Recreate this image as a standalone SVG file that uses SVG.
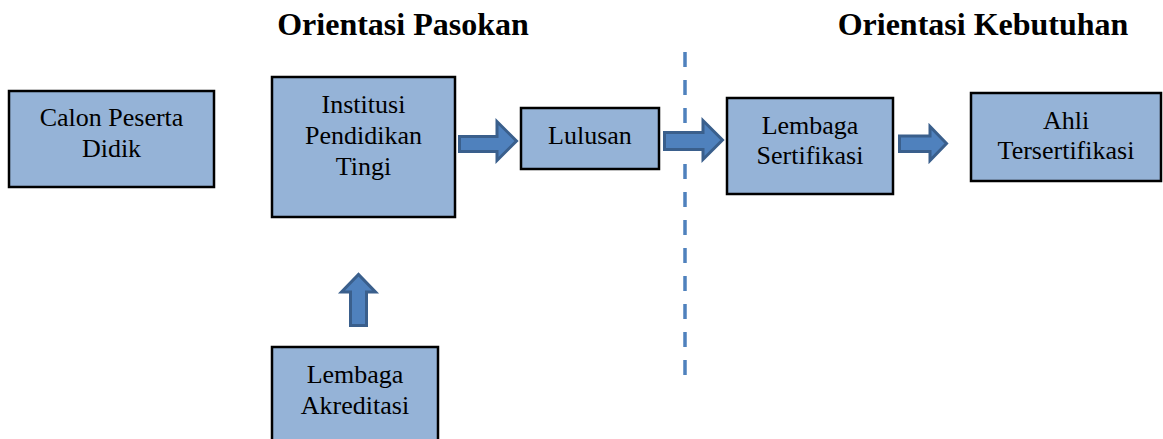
<svg xmlns="http://www.w3.org/2000/svg" width="1163" height="439" viewBox="0 0 1163 439">
<style>
.box{fill:#95B3D7;stroke:#000;stroke-width:2.5}
.t{font-family:'Liberation Serif','Times New Roman','Nimbus Roman','FreeSerif','Noto Serif','DejaVu Serif',serif;font-size:26px;fill:#000;text-anchor:middle}
.h{font-family:'Liberation Serif','Times New Roman','Nimbus Roman','FreeSerif','Noto Serif','DejaVu Serif',serif;font-size:32px;font-weight:bold;fill:#000;text-anchor:middle}
.arr{fill:#4F81BD;stroke:#3A5F8C;stroke-width:3;stroke-linejoin:miter}
.div{stroke:#4F81BD;stroke-width:3.5;stroke-dasharray:15 13;fill:none}
</style>
<rect width="1163" height="439" fill="#fff"/>
<text class="h" x="403" y="35">Orientasi Pasokan</text>
<text class="h" x="983" y="35">Orientasi Kebutuhan</text>
<g id="connectors">
<line class="div" x1="685" y1="52" x2="685" y2="378"/>
<path class="arr" d="M459.5,136.5 H497 V121.5 L516.5,141 L497,160.5 V151.5 H459.5 Z"/>
<path class="arr" d="M664.5,132.5 H703 V120.5 L722.5,140 L703,159.5 V149.5 H664.5 Z"/>
<path class="arr" d="M899.5,136 H930 V126.5 L946.5,143.5 L930,160.5 V151.5 H899.5 Z"/>
<path class="arr" d="M350.5,325.5 V292 H341.5 L358.5,274.5 L375.5,292 H366.5 V325.5 Z"/>
</g>
<g id="calon">
<rect class="box" x="9" y="91" width="205" height="96"/>
<text class="t" x="111.5" y="126">Calon Peserta</text>
<text class="t" x="111.5" y="157">Didik</text>
</g>
<g id="institusi">
<rect class="box" x="272" y="77" width="183" height="140"/>
<text class="t" x="363.5" y="113">Institusi</text>
<text class="t" x="363.5" y="144">Pendidikan</text>
<text class="t" x="363.5" y="175">Tingi</text>
</g>
<g id="lulusan">
<rect class="box" x="521" y="108" width="138" height="61"/>
<text class="t" x="590" y="144">Lulusan</text>
</g>
<g id="sertifikasi">
<rect class="box" x="727" y="98" width="166" height="96"/>
<text class="t" x="810" y="134">Lembaga</text>
<text class="t" x="810" y="164">Sertifikasi</text>
</g>
<g id="ahli">
<rect class="box" x="971" y="93" width="190" height="88"/>
<text class="t" x="1066" y="129">Ahli</text>
<text class="t" x="1066" y="159">Tersertifikasi</text>
</g>
<g id="akreditasi">
<rect class="box" x="272" y="347" width="166" height="100"/>
<text class="t" x="355" y="383">Lembaga</text>
<text class="t" x="355" y="414">Akreditasi</text>
</g>
</svg>
